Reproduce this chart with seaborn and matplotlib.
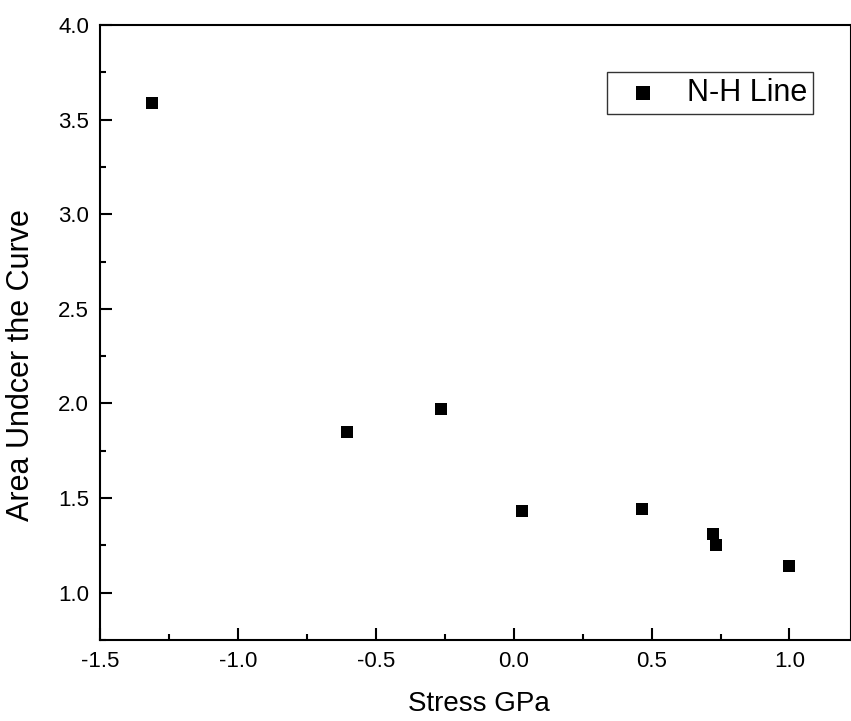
import numpy as np
import pandas as pd
import matplotlib
matplotlib.use("Agg")
import matplotlib.pyplot as plt
import seaborn as sns
from matplotlib.ticker import MultipleLocator

# -----------------------------
# Data
# -----------------------------
stress_gpa = [-1.31, -0.605, -0.264, 0.030, 0.465, 0.724, 0.733, 1.0]
area_under_curve = [3.59, 1.85, 1.97, 1.43, 1.44, 1.31, 1.25, 1.14]
series_label = "N-H Line"

df = pd.DataFrame({"Stress": stress_gpa, "Area": area_under_curve})

# -----------------------------
# Style
# -----------------------------
sns.set_style("ticks")
plt.rcParams["font.family"] = ["Liberation Sans", "DejaVu Sans"]
plt.rcParams["axes.linewidth"] = 1.5
plt.rcParams["text.color"] = "black"
plt.rcParams["axes.labelcolor"] = "black"
plt.rcParams["xtick.color"] = "black"
plt.rcParams["ytick.color"] = "black"
plt.rcParams["axes.edgecolor"] = "black"

fig = plt.figure(figsize=(8.51, 7.21), dpi=100)
ax = fig.add_axes([100 / 851, 81 / 721, 751 / 851, 615 / 721])

sns.scatterplot(
    data=df, x="Stress", y="Area",
    marker="s", color="black", s=64, linewidth=0,
    label=series_label, ax=ax,
)

ax.set_xlim(-1.5, 1.223)
ax.set_ylim(0.75, 4.0)
ax.xaxis.set_major_locator(MultipleLocator(0.5))
ax.xaxis.set_minor_locator(MultipleLocator(0.25))
ax.yaxis.set_major_locator(MultipleLocator(0.5))
ax.yaxis.set_minor_locator(MultipleLocator(0.25))
ax.xaxis.set_major_formatter(plt.FormatStrFormatter("%.1f"))
ax.yaxis.set_major_formatter(plt.FormatStrFormatter("%.1f"))

ax.tick_params(which="both", direction="in", width=1.5, labelsize=16,
               top=False, right=False, pad=8, colors="black")
ax.tick_params(which="major", length=8.5)
ax.tick_params(which="minor", length=4.5)

for side in ["top", "right", "left", "bottom"]:
    ax.spines[side].set_visible(True)
    ax.spines[side].set_color("black")

ax.set_xlabel("Stress GPa", fontsize=20)
ax.set_ylabel("Area Undcer the Curve", fontsize=22)
ax.xaxis.set_label_coords(0.505, -0.083)
ax.yaxis.set_label_coords(-0.085, 0.447)

leg = ax.legend(
    loc="upper right", bbox_to_anchor=((813 - 100) / 751, 1 - (72 - 25) / 615),
    fontsize=22, frameon=True, fancybox=False, markerscale=1.3,
    handletextpad=0.47, borderpad=0.2, borderaxespad=0, handlelength=1.93,
)
leg.get_frame().set_edgecolor("black")
leg.get_frame().set_linewidth(1.0)

fig.savefig("out.png", dpi=100)
